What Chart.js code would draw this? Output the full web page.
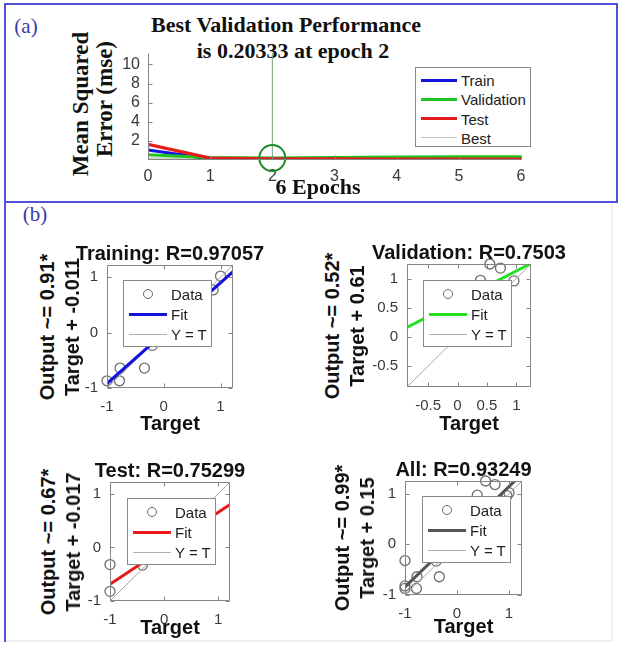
<!DOCTYPE html>
<html>
<head>
<meta charset="utf-8">
<script src="https://cdn.jsdelivr.net/npm/chart.js@4.4.0/dist/chart.umd.min.js"></script>
<style>
  body { margin: 0; background: #fff; }
  #page { position: relative; width: 620px; height: 645px; overflow: hidden; background: #fff; }
  canvas { position: absolute; }
  .txt { position: absolute; white-space: nowrap; transform: translate(-50%, -50%); line-height: 1; }
  .serif { font-family: "Liberation Serif", "DejaVu Serif", serif; font-weight: bold; color: #111; }
  .sans { font-family: "Liberation Sans", Arial, sans-serif; font-weight: bold; color: #111; }
  .tag { font-family: "Liberation Serif", serif; color: #3a3aa8; font-size: 21px; }
  .legend { position: absolute; background: #fff; border: 1px solid #8a8a8a; box-sizing: border-box;
            font-family: "Liberation Sans", Arial, sans-serif; color: #222; }
  .legend span { position: absolute; transform: translateY(-50%); line-height: 1; }
  .legend i { position: absolute; display: block; }
</style>
</head>
<body>
<div id="page">
  <div style="position:absolute;left:4px;top:3px;width:614px;height:200px;border:2px solid #5050d8;box-sizing:border-box;"></div>
  <div style="position:absolute;left:4px;top:201px;width:2px;height:441px;background:#5050d8;"></div>
  <div style="position:absolute;left:6px;top:640px;width:606px;height:2px;background:#ececf2;"></div>
  <div style="position:absolute;left:611px;top:203px;width:2px;height:438px;background:#f2f2f4;"></div>
</div>
<script>
// ---- performance curves (mse per epoch)
const epochs = [0, 1, 2, 3, 4, 5, 6];
const trainMse = [1.05, 0.12, 0.1, 0.09, 0.09, 0.08, 0.08];
const validMse = [0.55, 0.25, 0.20333, 0.26, 0.3, 0.32, 0.33];
const testMse = [1.65, 0.2, 0.12, 0.11, 0.1, 0.1, 0.1];
const bestEpoch = 2;
const bestMse = 0.20333;
const perfXTicks = [0, 1, 2, 3, 4, 5, 6];
const perfYTicks = [2, 4, 6, 8, 10];

// ---- regression: targets vs outputs
const trainTarget = [-1.0, -0.78, -0.77, -0.34, -0.2, 0.87, 1.0];
const trainOutput = [-0.87, -0.87, -0.64, -0.64, -0.23, 0.77, 1.02];
const validTarget = [0.55, 0.73, 0.39, 0.96];
const validOutput = [1.25, 1.18, 0.97, 0.96];
const testTarget = [-1.0, -1.0, -0.4];
const testOutput = [-0.32, -0.82, -0.33];
const allTarget = trainTarget.concat(validTarget, testTarget);
const allOutput = trainOutput.concat(validOutput, testOutput);

// linear fits [slope, intercept]
const trainFit = [0.91, -0.011];
const validFit = [0.52, 0.61];
const testFit = [0.67, -0.017];
const allFit = [0.99, 0.15];

const unitTicks = [-1, 0, 1];
const halfTicks = [-0.5, 0, 0.5, 1];

const page = document.getElementById('page');

function addText(str, x, y, cls, size, rotate) {
  const d = document.createElement('div');
  d.className = 'txt ' + cls;
  d.textContent = str;
  d.style.left = x + 'px';
  d.style.top = y + 'px';
  d.style.fontSize = size + 'px';
  if (rotate) d.style.transform = 'translate(-50%, -50%) rotate(-90deg)';
  page.appendChild(d);
}

function addCanvas(left, top, w, h) {
  const c = document.createElement('canvas');
  c.width = w; c.height = h;
  c.style.left = left + 'px'; c.style.top = top + 'px';
  c.style.width = w + 'px'; c.style.height = h + 'px';
  page.appendChild(c);
  return c;
}

// MATLAB-ish axes: box (or just left/bottom) with inward tick marks
const axesBox = {
  id: 'axesBox',
  afterDatasetsDraw(chart, args, opts) {
    const { ctx, chartArea: a, scales } = chart;
    const len = 4;
    ctx.save();
    ctx.strokeStyle = opts.color || '#858585';
    ctx.lineWidth = 1;
    ctx.beginPath();
    const L = Math.round(a.left) + 0.5, R = Math.round(a.right) - 0.5;
    const T = Math.round(a.top) + 0.5, B = Math.round(a.bottom) - 0.5;
    ctx.moveTo(L, T); ctx.lineTo(L, B); ctx.lineTo(R, B);
    if (opts.full) { ctx.lineTo(R, T); ctx.lineTo(L, T); }
    scales.x.ticks.forEach(t => {
      const px = Math.round(scales.x.getPixelForValue(t.value)) + 0.5;
      ctx.moveTo(px, B); ctx.lineTo(px, B - len);
      if (opts.full) { ctx.moveTo(px, T); ctx.lineTo(px, T + len); }
    });
    scales.y.ticks.forEach(t => {
      const py = Math.round(scales.y.getPixelForValue(t.value)) + 0.5;
      ctx.moveTo(L, py); ctx.lineTo(L + len, py);
      if (opts.full) { ctx.moveTo(R, py); ctx.lineTo(R - len, py); }
    });
    ctx.stroke();
    ctx.restore();
  }
};

function linScale(min, max, tickVals, size, horizontal, pad, fontSize) {
  return {
    type: 'linear', min: min, max: max, grace: 0, offset: false,
    grid: { display: false, drawTicks: false },
    border: { display: false },
    ticks: {
      color: '#3a3a3a', padding: pad, autoSkip: false, maxRotation: 0,
      font: { family: '"Liberation Sans", Arial, sans-serif', size: fontSize },
      callback: v => String(v)
    },
    afterBuildTicks: s => { s.ticks = tickVals.map(v => ({ value: v })); },
    afterFit: s => {
      if (horizontal) { s.height = size; s.paddingLeft = 0; s.paddingRight = 0; }
      else { s.width = size; s.paddingTop = 0; s.paddingBottom = 0; }
    }
  };
}

function makeLegend(left, top, w, h, rows, rowTop, rowGap, textX, lineX0, lineX1, fontSize) {
  const box = document.createElement('div');
  box.className = 'legend';
  box.style.cssText = `left:${left}px;top:${top}px;width:${w}px;height:${h}px;font-size:${fontSize}px;`;
  rows.forEach((r, i) => {
    const y = rowTop + i * rowGap;
    if (r.circle) {
      const c = document.createElement('i');
      c.style.cssText = `left:${(lineX0 + lineX1) / 2 - 5}px;top:${y - 5}px;width:8px;height:8px;border:1.4px solid #6a6a6a;border-radius:50%;`;
      box.appendChild(c);
    } else {
      const l = document.createElement('i');
      l.style.cssText = `left:${lineX0}px;top:${y - r.width / 2}px;width:${lineX1 - lineX0}px;height:${r.width}px;background:${r.color};`;
      box.appendChild(l);
    }
    const s = document.createElement('span');
    s.textContent = r.label;
    s.style.left = textX + 'px';
    s.style.top = y + 'px';
    box.appendChild(s);
  });
  page.appendChild(box);
}

// ---------------- (a) performance plot
addText('(a)', 26, 26, 'tag', 21);
addText('Best Validation Performance', 286, 25, 'serif', 22);
addText('is 0.20333 at epoch 2', 293, 51, 'serif', 22);
addText('Mean Squared', 80, 104, 'serif', 23, true);
addText('Error  (mse)', 104, 99, 'serif', 23, true);

const perfCanvas = addCanvas(98, 38, 442, 150);
const toXY = (xs, ys) => xs.map((x, i) => ({ x: x, y: ys[i] }));

new Chart(perfCanvas, {
  type: 'scatter',
  data: {
    datasets: [
      { label: 'Best mark', data: [{ x: bestEpoch, y: bestMse }], pointRadius: 13, pointBorderWidth: 2,
        pointBorderColor: '#1f8a2a', pointBackgroundColor: 'rgba(0,0,0,0)', clip: false, order: 0 },
      { label: 'Test', data: toXY(epochs, testMse), showLine: true, borderColor: '#e41c1c', borderWidth: 3.2, pointRadius: 0, order: 1 },
      { label: 'Validation', data: toXY(epochs, validMse), showLine: true, borderColor: '#1fc21f', borderWidth: 3.2, pointRadius: 0, order: 2 },
      { label: 'Train', data: toXY(epochs, trainMse), showLine: true, borderColor: '#1414e0', borderWidth: 3.2, pointRadius: 0, order: 3 },
      { label: 'Best', data: [{ x: bestEpoch, y: 0 }, { x: bestEpoch, y: 11.2 }], showLine: true, borderColor: '#79a879', borderWidth: 1, pointRadius: 0, order: 4 },
      { label: 'Best level', data: [{ x: 0, y: bestMse }, { x: 6, y: bestMse }], showLine: true, borderColor: '#9cb89c', borderWidth: 1, pointRadius: 0, order: 5 }
    ]
  },
  plugins: [axesBox],
  options: {
    responsive: false, animation: false, events: [],
    layout: { padding: { top: 7, right: 19, left: 0, bottom: 0 } },
    plugins: { legend: { display: false }, tooltip: { enabled: false }, axesBox: { full: false } },
    scales: {
      x: linScale(0, 6, perfXTicks, 28, true, 7, 16),
      y: linScale(0, 11.2, perfYTicks, 50, false, 8, 16)
    }
  }
});

addText('6 Epochs', 318, 187, 'serif', 22);

makeLegend(415, 67, 116, 80, [
  { label: 'Train', color: '#1414e0', width: 3 },
  { label: 'Validation', color: '#1fc21f', width: 3 },
  { label: 'Test', color: '#e41c1c', width: 3 },
  { label: 'Best', color: '#b8c8b8', width: 1 }
], 12, 19.3, 45, 5, 41, 15);

// ---------------- (b) regression plots
addText('(b)', 35, 214, 'tag', 21);

function regression(box, lo, hi, ticks, targets, outputs, fit, fitColor, title, yl1, yl2, ylabelGap, xlabelGap, legendPos) {
  const ML = 45, MT = 12, MR = 12, MB = 30;
  const w = box.r - box.l, h = box.b - box.t;
  const c = addCanvas(box.l - ML, box.t - MT, w + ML + MR, h + MT + MB);
  new Chart(c, {
    type: 'scatter',
    data: {
      datasets: [
        { label: 'Fit', data: [{ x: lo, y: fit[0] * lo + fit[1] }, { x: hi, y: fit[0] * hi + fit[1] }],
          showLine: true, borderColor: fitColor, borderWidth: 3, pointRadius: 0, order: 0 },
        { label: 'Y = T', data: [{ x: lo, y: lo }, { x: hi, y: hi }], showLine: true,
          borderColor: '#a8a8a8', borderWidth: 1, pointRadius: 0, order: 1 },
        { label: 'Data', data: toXY(targets, outputs), pointRadius: 5, pointBorderWidth: 1.3,
          pointBorderColor: '#6e6e6e', pointBackgroundColor: 'rgba(0,0,0,0)', clip: false, order: 2 }
      ]
    },
    plugins: [axesBox],
    options: {
      responsive: false, animation: false, events: [],
      layout: { padding: { top: MT, right: MR, left: 0, bottom: 0 } },
      plugins: { legend: { display: false }, tooltip: { enabled: false }, axesBox: { full: true } },
      scales: {
        x: linScale(lo, hi, ticks, MB, true, 10, 15),
        y: linScale(lo, hi, ticks, ML, false, 9, 15)
      }
    }
  });
  const cx = (box.l + box.r) / 2, cy = (box.t + box.b) / 2;
  addText(title, cx, box.t - 12, 'sans', 20);
  addText(yl1, box.l - ylabelGap - 25, cy, 'sans', 20, true);
  addText(yl2, box.l - ylabelGap, cy, 'sans', 20, true);
  addText('Target', cx, box.b + xlabelGap, 'sans', 20);
  makeLegend(legendPos[0], legendPos[1], 89, 67, [
    { label: 'Data', circle: true },
    { label: 'Fit', color: fitColor, width: 3 },
    { label: 'Y = T', color: '#b0b0b0', width: 1 }
  ], 13, 20, 47, 5, 43, 15);
}

regression({ l: 107, t: 265, r: 233, b: 388 }, -1, 1.22, unitTicks, trainTarget, trainOutput, trainFit,
  '#1212dc', 'Training: R=0.97057', 'Output ~= 0.91*', 'Target + -0.011', 35, 35, [123, 280]);
regression({ l: 407, t: 264, r: 531, b: 387 }, -0.86, 1.25, halfTicks, validTarget, validOutput, validFit,
  '#24e024', 'Validation: R=0.7503', 'Output ~= 0.52*', 'Target + 0.61', 50, 36, [423, 280]);
regression({ l: 110, t: 482, r: 230, b: 601 }, -1, 1.22, unitTicks, testTarget, testOutput, testFit,
  '#e81818', 'Test: R=0.75299', 'Output ~= 0.67*', 'Target + -0.017', 37, 26, [127, 498]);
regression({ l: 405, t: 481, r: 522, b: 595 }, -1, 1.25, unitTicks, allTarget, allOutput, allFit,
  '#555555', 'All: R=0.93249', 'Output ~= 0.99*', 'Target + 0.15', 38, 31, [422, 496]);
</script>
</body>
</html>
